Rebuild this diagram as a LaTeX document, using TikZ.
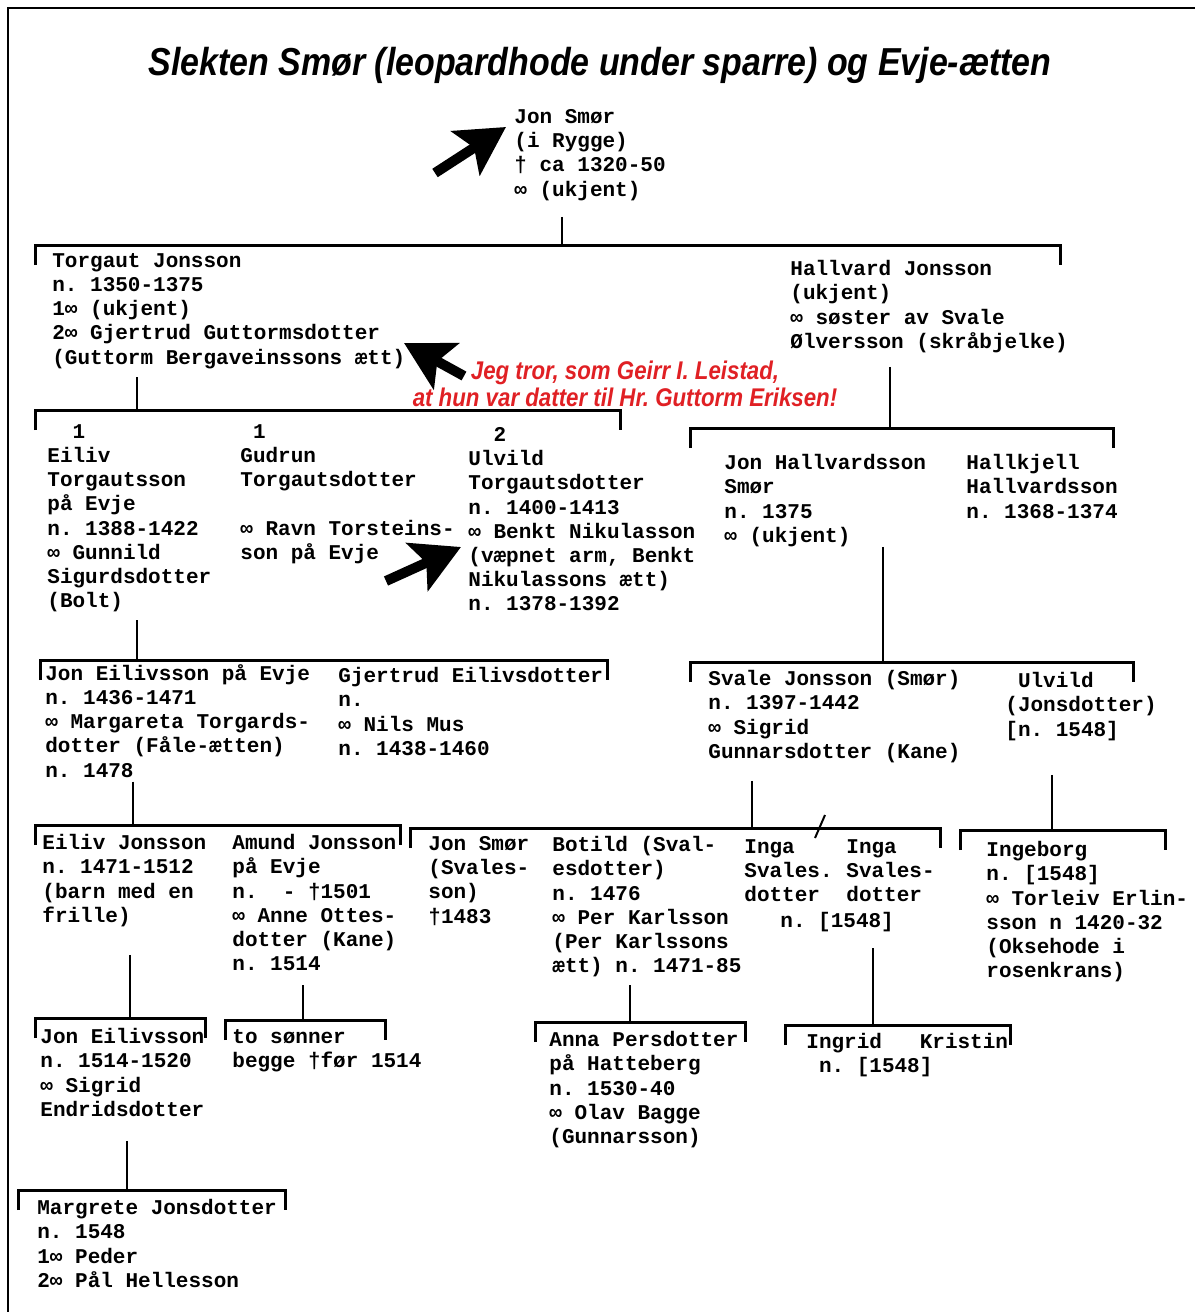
\documentclass[tikz,border=0pt]{standalone}
\usepackage{fontspec}
\usepackage{tikz}
\usetikzlibrary{arrows.meta, positioning, calc}

\newfontfamily\slektfont{Liberation Mono}
\newfontfamily\titelfont{Liberation Sans}[FakeStretch=0.87]
\definecolor{raud}{RGB}{224,32,36}

\tikzset{
  person/.style={anchor=north west, inner sep=0pt, align=left,
    font={\slektfont\bfseries\fontsize{10.5}{12.1}\selectfont}},
  grein/.style={line width=1.5pt},
  stamme/.style={line width=1pt},
  pil/.style={line width=5pt, -{Stealth[length=24pt,width=26pt,inset=5pt]}}
}

\begin{document}
\frenchspacing
\begin{tikzpicture}[x=0.5pt,y=-0.5pt]
        \useasboundingbox (0,0) rectangle (1195,1312);
        % Frame
        \draw[line width=0.8pt] (8,1312) -- (8,8) -- (1195,8);

        % Title and note
        \node (tittel) at (600,65) {\titelfont\bfseries\itshape\fontsize{19.5}{22}\selectfont Slekten Smør (leopardhode under sparre) og Evje-ætten};
        \node[align=center, text=raud, font={\titelfont\bfseries\itshape\fontsize{12.8}{13.5}\selectfont}] (merknad) at (625,384)
            {Jeg tror, som Geirr I. Leistad,\\at hun var datter til Hr. Guttorm Eriksen!};

        % Generation 1 and 2
        \node[person] (jonsmor) at (514,109) {Jon Smør\\(i Rygge)\\† ca 1320-50\\∞ (ukjent)};
        \node[person] (torgaut) at (52,253) {Torgaut Jonsson\\n. 1350-1375\\1∞ (ukjent)\\2∞ Gjertrud Guttormsdotter\\(Guttorm Bergaveinssons ætt)};
        \node[person] (hallvard) at (790,260) {Hallvard Jonsson\\(ukjent)\\∞ søster av Svale\\Ølversson (skråbjelke)};

        % Generation 3
        \node[person] (eiliv) at (47,424) {\ \ 1\\Eiliv\\Torgautsson\\på Evje\\n. 1388-1422\\∞ Gunnild\\Sigurdsdotter\\(Bolt)};
        \node[person] (gudrun) at (240,424) {\ 1\\Gudrun\\Torgautsdotter\\[12.1pt]∞ Ravn Torsteins-\\son på Evje};
        \node[person] (ulvild) at (468,427) {\ \ 2\\Ulvild\\Torgautsdotter\\n. 1400-1413\\∞ Benkt Nikulasson\\(væpnet arm, Benkt\\Nikulassons ætt)\\n. 1378-1392};
        \node[person] (jonhallv) at (724,454) {Jon Hallvardsson\\Smør\\n. 1375\\∞ (ukjent)};
        \node[person] (hallkjell) at (966,454) {Hallkjell\\Hallvardsson\\n. 1368-1374};

        % Generation 4
        \node[person] (joneviev) at (45,664) {Jon Eilivsson på Evje\\n. 1436-1471\\∞ Margareta Torgards-\\dotter (Fåle-ætten)\\n. 1478};
        \node[person] (gjertrud) at (338,667) {Gjertrud Eilivsdotter\\n.\\∞ Nils Mus\\n. 1438-1460};
        \node[person] (svale) at (708,670) {Svale Jonsson (Smør)\\n. 1397-1442\\∞ Sigrid\\Gunnarsdotter (Kane)};
        \node[person] (ulvildj) at (1005,672) {\ Ulvild\\(Jonsdotter)\\{[}n. 1548]};

        % Generation 5
        \node[person] (eilivj) at (42,834) {Eiliv Jonsson\\n. 1471-1512\\(barn med en\\frille)};
        \node[person] (amund) at (232,834) {Amund Jonsson\\på Evje\\n.\ \ - †1501\\∞ Anne Ottes-\\dotter (Kane)\\n. 1514};
        \node[person] (jonsmor2) at (428,836) {Jon Smør\\(Svales-\\son)\\†1483};
        \node[person] (botild) at (552,836) {Botild (Sval-\\esdotter)\\n. 1476\\∞ Per Karlsson\\(Per Karlssons\\ætt) n. 1471-85};
        \node[person] (inga1) at (744,839) {Inga\\Svales.\\dotter};
        \node[person] (inga2) at (846,839) {Inga\\Svales-\\dotter};
        \node[person] (ingafodt) at (780,912) {n. [1548]};
        \node[person] (ingeborg) at (986,841) {Ingeborg\\n. [1548]\\∞ Torleiv Erlin-\\sson n 1420-32\\(Oksehode i\\rosenkrans)};

        % Generation 6 and 7
        \node[person] (joneilivs) at (40,1028) {Jon Eilivsson\\n. 1514-1520\\∞ Sigrid\\Endridsdotter};
        \node[person] (tosonner) at (232,1029) {to sønner\\begge †før 1514};
        \node[person] (anna) at (549,1031) {Anna Persdotter\\på Hatteberg\\n. 1530-40\\∞ Olav Bagge\\(Gunnarsson)};
        \node[person] (ingrid) at (806,1033) {Ingrid\ \ \ Kristin\\\ n. [1548]};
        \node[person] (margrete) at (37,1199) {Margrete Jonsdotter\\n. 1548\\1∞ Peder\\2∞ Pål Hellesson};

        % Draw the sibling bars
        \foreach \n/\v/\m/\h/\y in {1/35/562/1060/245, 2/35/137/620/410, 3/690/890/1113/428,
                4/40/137/607/660, 5/690/883/1133/662, 6/35/133/400/825, 7/410/752/940/828,
                8/960/1052/1165/830, 9/35/130/205/1018, 10/225/303/385/1020,
                11/535/630/745/1022, 12/785/873/1010/1025, 13/18/127/285/1190} {
            \coordinate (v\n) at (\v,\y);
            \coordinate (m\n) at (\m,\y);
            \coordinate (h\n) at (\h,\y);
            \draw[grein] ([yshift=-10pt]v\n) -- (v\n) -- (h\n) -- ([yshift=-10pt]h\n);
        }
        \draw[stamme] (815,838) -- (825,815);

        % Draw the stems from each parent
        \foreach \n/\f/\s in {1/jonsmor/8, 2/torgaut/4, 3/hallvard/7, 4/eiliv/4, 5/jonhallv/0,
                6/joneviev/2, 7/svale/9, 8/ulvildj/17, 9/eilivj/14, 10/amund/7,
                11/botild/4, 12/ingafodt/8, 13/joneilivs/12} {
            \draw[stamme, shorten <=\s pt] (m\n |- \f.south) -- (m\n);
        }

        % Pointers
        \coordinate (pil1) at (435,173);
        \coordinate (pil2) at (464,376);
        \coordinate (pil3) at (386,581);
        \draw[pil] (pil1) -- (506,127);
        \draw[pil] (pil2) -- (404,343);
        \draw[pil] (pil3) -- (461,547);
    \end{tikzpicture}
\end{document}
